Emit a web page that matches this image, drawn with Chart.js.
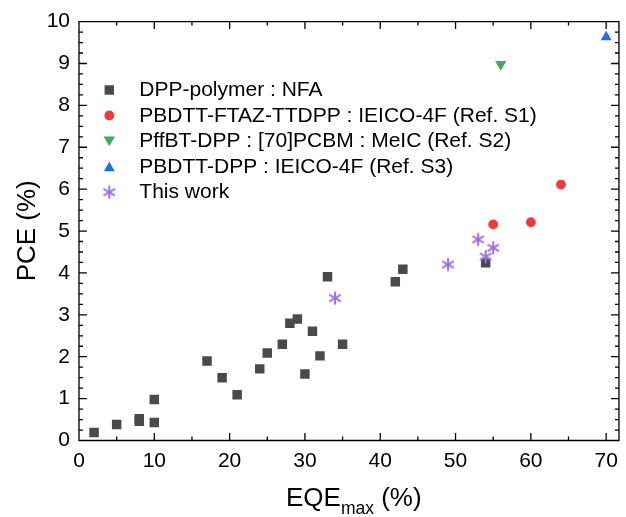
<!DOCTYPE html>
<html>
<head>
<meta charset="utf-8">
<script src="https://cdn.jsdelivr.net/npm/chart.js@4/dist/chart.umd.min.js"></script>
<style>
html,body{margin:0;padding:0;background:#fff;}
#wrap{width:626px;height:517px;position:relative;}
</style>
</head>
<body>
<div id="wrap"><canvas id="c" width="626" height="517"></canvas></div>
<script>
// ---- data ----
const seriesLabels = [
  'DPP-polymer : NFA',
  'PBDTT-FTAZ-TTDPP : IEICO-4F (Ref. S1)',
  'PffBT-DPP : [70]PCBM : MeIC (Ref. S2)',
  'PBDTT-DPP : IEICO-4F (Ref. S3)',
  'This work'
];
const polymerEQE = [2, 5, 8, 8, 10, 10, 17, 19, 21, 24, 25, 27, 28, 29, 30, 31, 32, 33, 35, 42, 43, 54];
const polymerPCE = [0.19, 0.38, 0.52, 0.46, 0.98, 0.43, 1.90, 1.50, 1.09, 1.71, 2.09, 2.30, 2.80, 2.90, 1.59, 2.61, 2.02, 3.91, 2.30, 3.79, 4.09, 4.24];
const refS1EQE = [55, 60, 64];
const refS1PCE = [5.16, 5.21, 6.11];
const refS2EQE = [56];
const refS2PCE = [8.98];
const refS3EQE = [70];
const refS3PCE = [9.63];
const thisEQE = [34, 49, 53, 54, 55];
const thisPCE = [3.40, 4.20, 4.80, 4.39, 4.60];
const xTickValues = [0, 10, 20, 30, 40, 50, 60, 70];
const yTickValues = [0, 1, 2, 3, 4, 5, 6, 7, 8, 9, 10];

const FONT = '"Liberation Sans", Arial, Helvetica, sans-serif';
const toPts = (xs, ys) => xs.map((x, i) => ({x: x, y: ys[i]}));

function makeAsterisk(color, r, lw) {
  const s = Math.ceil(2 * r + lw + 2);
  const c = document.createElement('canvas');
  c.width = s; c.height = s;
  const g = c.getContext('2d');
  g.strokeStyle = color; g.lineWidth = lw; g.lineCap = 'butt';
  const cx = s / 2, cy = s / 2;
  for (let k = 0; k < 3; k++) {
    const a = Math.PI / 2 + k * Math.PI / 3;
    g.beginPath();
    g.moveTo(cx + Math.cos(a) * r, cy - Math.sin(a) * r);
    g.lineTo(cx - Math.cos(a) * r, cy + Math.sin(a) * r);
    g.stroke();
  }
  return c;
}
const starImg = makeAsterisk('#a46fe4', 6.6, 2);

const datasets = [
  {label: seriesLabels[0], data: toPts(polymerEQE, polymerPCE), pointStyle: 'rect', pointRadius: 6.7,
   backgroundColor: '#4a4a4a', borderWidth: 0, order: 2},
  {label: seriesLabels[1], data: toPts(refS1EQE, refS1PCE), pointStyle: 'circle', pointRadius: 4.9,
   backgroundColor: '#ef3a3b', borderWidth: 0, order: 1},
  {label: seriesLabels[2], data: toPts(refS2EQE, refS2PCE), pointStyle: 'triangle', pointRotation: 180, pointRadius: 6.5,
   backgroundColor: '#3aaa66', borderWidth: 0, order: 1},
  {label: seriesLabels[3], data: toPts(refS3EQE, refS3PCE), pointStyle: 'triangle', pointRadius: 6.3,
   backgroundColor: '#1f6fe0', borderWidth: 0, order: 1},
  {label: seriesLabels[4], data: toPts(thisEQE, thisPCE), pointStyle: starImg, pointRadius: 6.6,
   backgroundColor: '#a46fe4', borderColor: '#a46fe4', borderWidth: 0, order: 0}
];

// frame with inward ticks on all four sides
const framePlugin = {
  id: 'frame',
  afterDraw(chart) {
    const {ctx, chartArea: a, scales: {x, y}} = chart;
    ctx.save();
    ctx.strokeStyle = '#000';
    ctx.lineWidth = 1.3;
    ctx.beginPath();
    ctx.rect(a.left, a.top, a.right - a.left, a.bottom - a.top);
    ctx.stroke();
    ctx.beginPath();
    for (let v = 5; v <= x.max; v += 5) {
      const px = x.getPixelForValue(v);
      const len = (v % 10 === 0) ? 7.5 : 4;
      ctx.moveTo(px, a.bottom); ctx.lineTo(px, a.bottom - len);
      ctx.moveTo(px, a.top); ctx.lineTo(px, a.top + len);
    }
    for (let k = 1; k < 40; k++) {
      const v = k * 0.25;
      const py = y.getPixelForValue(v);
      const len = (k % 4 === 0) ? 8 : 4;
      ctx.moveTo(a.left, py); ctx.lineTo(a.left + len, py);
      ctx.moveTo(a.right, py); ctx.lineTo(a.right - len, py);
    }
    ctx.stroke();
    ctx.restore();
  }
};

// axis titles (x title with subscript)
const titlePlugin = {
  id: 'titles',
  afterDraw(chart) {
    const {ctx} = chart;
    ctx.save();
    ctx.fillStyle = '#000';
    ctx.textBaseline = 'alphabetic';
    ctx.save();
    ctx.translate(35.3, 230.8);
    ctx.rotate(-Math.PI / 2);
    ctx.textAlign = 'center';
    ctx.font = '26px ' + FONT;
    ctx.fillText('PCE (%)', 0, 0);
    ctx.restore();
    ctx.textAlign = 'left';
    let xx = 286;
    ctx.font = '26px ' + FONT;
    ctx.fillText('EQE', xx, 506);
    xx += ctx.measureText('EQE').width;
    ctx.font = '17.5px ' + FONT;
    ctx.fillText('max', xx, 514);
    xx += ctx.measureText('max').width;
    ctx.font = '26px ' + FONT;
    ctx.fillText(' (%)', xx, 506);
    ctx.restore();
  }
};

// legend inside plot, top-left
const legendPlugin = {
  id: 'insideLegend',
  afterDraw(chart) {
    const {ctx} = chart;
    const rows = [90, 115.5, 141.2, 166.5, 192.2];
    ctx.save();
    chart.data.datasets.forEach((ds, i) => {
      const yy = rows[i];
      ctx.fillStyle = ds.backgroundColor;
      ctx.strokeStyle = ds.borderColor || ds.backgroundColor;
      let yOff = 0;
      if (ds.pointStyle === 'triangle') yOff = (ds.pointRotation === 180 ? -1.5 : 1.5);
      Chart.helpers.drawPoint(ctx, {
        pointStyle: ds.pointStyle, radius: ds.pointRadius,
        rotation: ds.pointRotation || 0, borderWidth: 0
      }, 109.3, yy + yOff);
      ctx.fillStyle = '#000';
      ctx.font = '21px ' + FONT;
      ctx.textAlign = 'left';
      ctx.textBaseline = 'middle';
      ctx.fillText(ds.label, 139.3, yy + 0.5);
    });
    ctx.restore();
  }
};

new Chart(document.getElementById('c'), {
  type: 'scatter',
  data: {datasets: datasets},
  options: {
    responsive: false,
    animation: false,
    devicePixelRatio: 1,
    layout: {padding: {left: 0, top: 17.3, right: 3.2, bottom: 0}},
    plugins: {legend: {display: false}, tooltip: {enabled: false}},
    scales: {
      x: {
        type: 'linear', min: 0, max: 71.7,
        grid: {display: false, drawTicks: false},
        border: {display: false},
        afterBuildTicks: s => { s.ticks = xTickValues.map(v => ({value: v})); },
        ticks: {includeBounds: false, padding: 8, color: '#000', maxRotation: 0, autoSkip: false,
                font: {family: FONT, size: 21}},
        afterFit: s => { s.height = 76.5; }
      },
      y: {
        type: 'linear', min: 0, max: 10,
        grid: {display: false, drawTicks: false},
        border: {display: false},
        afterBuildTicks: s => { s.ticks = yTickValues.map(v => ({value: v})); },
        ticks: {includeBounds: false, padding: 9, color: '#000', autoSkip: false,
                font: {family: FONT, size: 21}},
        afterFit: s => { s.width = 79; }
      }
    }
  },
  plugins: [framePlugin, titlePlugin, legendPlugin]
});
</script>
</body>
</html>
